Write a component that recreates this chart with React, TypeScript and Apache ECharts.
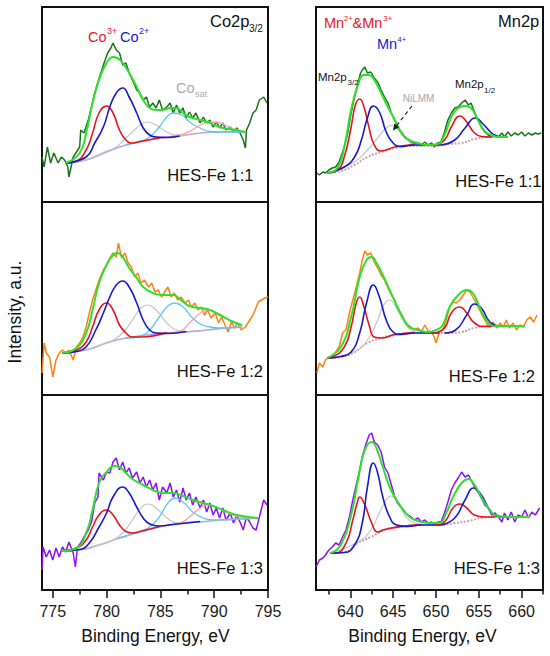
import React, { useEffect, useRef } from 'react';
import * as echarts from 'echarts';

const FONT = '"Liberation Sans", Arial, Helvetica, sans-serif';

// ---------- Co2p3/2, HES-Fe 1:1 ----------
const co11Raw = [[774.0,45],[774.2,35],[774.5,55],[774.8,39],[775.1,49],[775.5,39],[775.8,45],[776.1,42],[776.4,35],[776.5,25],[776.9,45],[777.2,50],[777.5,55],[777.6,72],[777.9,69],[778.3,82],[778.6,95],[778.9,109],[779.2,120],[779.5,130],[779.8,140],[780.1,149],[780.4,154],[780.6,159],[780.9,152],[781.2,149],[781.5,137],[781.8,139],[782.1,129],[782.4,122],[782.8,112],[783.1,109],[783.4,102],[783.7,105],[784.0,95],[784.3,99],[784.6,94],[784.9,102],[785.2,92],[785.6,95],[785.9,99],[786.2,89],[786.5,97],[786.8,89],[787.1,94],[787.4,84],[787.7,90],[788.0,84],[788.3,89],[788.7,79],[789.0,85],[789.3,79],[789.6,82],[789.9,75],[790.2,80],[790.5,74],[790.8,79],[791.1,72],[791.5,75],[791.8,70],[792.1,74],[792.4,69],[792.7,62],[792.9,54],[793.0,72],[793.3,79],[793.6,89],[793.9,92],[794.2,102],[794.6,105],[794.9,99]];
const co11Env = [[776.2,39],[777.5,49],[778.1,69],[778.7,99],[779.3,122],[780.0,139],[780.6,145],[781.0,144],[781.5,139],[782.1,129],[782.8,115],[783.4,102],[784.0,94],[784.6,92],[785.2,92],[785.9,94],[786.5,94],[787.1,89],[787.7,85],[788.7,82],[789.6,79],[790.5,75],[791.8,72],[792.9,70]];
const co11Bg = [[776.2,39],[778.1,42],[780.0,50],[781.8,57],[783.1,60],[784.9,64],[786.8,66],[788.7,69],[790.5,70],[792.9,70]];
const co11Co3 = [[776.2,39],[777.2,41],[778.1,52],[778.7,69],[779.3,89],[780.0,96],[780.6,89],[781.2,72],[781.8,62],[782.4,59],[783.1,60.5],[784.9,64]];
const co11Co2 = [[776.2,39],[778.1,45],[778.9,59],[779.7,75],[780.3,95],[780.9,109],[781.5,114],[782.1,105],[782.8,89],[783.4,74],[784.0,67],[784.6,65],[785.6,64.5],[786.8,66]];
const co11Sat1 = [[776.2,39],[778.1,42.5],[780.0,51],[780.9,55],[781.8,64],[782.8,74],[783.4,79],[783.8,80],[784.6,77],[785.6,70],[786.5,67],[787.4,67]];
const co11Sat2 = [[781.8,57],[783.1,60.5],[784.0,65],[784.9,75],[785.6,85],[786.2,89],[787.0,87],[787.7,80],[788.7,74],[789.6,70.5],[790.5,70],[792.9,70]];
const co11Sat3 = [[784.9,64],[786.8,67],[787.7,70.5],[788.7,77],[789.6,80],[790.5,79],[791.5,74.5],[792.4,71.5],[792.9,70.3]];

// ---------- Co2p3/2, HES-Fe 1:2 ----------
const co12Raw = [[774.0,22],[774.2,52],[774.4,42],[774.7,38],[775.0,18],[775.3,35],[775.6,42],[775.9,45],[776.2,42],[776.5,45],[776.9,35],[777.2,48],[777.5,52],[777.8,58],[778.1,68],[778.4,82],[778.7,95],[779.0,105],[779.3,115],[779.7,125],[780.0,130],[780.3,137],[780.6,142],[780.9,138],[781.1,152],[781.4,137],[781.7,142],[782.0,132],[782.3,128],[782.6,118],[782.9,122],[783.2,112],[783.5,115],[783.9,108],[784.2,112],[784.5,103],[784.8,105],[785.1,98],[785.4,103],[785.7,108],[786.0,98],[786.3,102],[786.6,95],[786.9,98],[787.3,92],[787.6,95],[787.9,88],[788.2,92],[788.5,85],[788.8,88],[789.1,80],[789.4,85],[789.7,77],[790.1,82],[790.4,72],[790.7,78],[791.0,70],[791.3,63],[791.6,73],[791.9,67],[792.2,72],[792.5,65],[792.9,68],[793.2,73],[793.5,78],[793.8,85],[794.1,93],[794.4,95],[794.7,97],[795.0,98]];
const co12Env = [[775.9,42],[777.2,47],[778.1,62],[778.7,85],[779.3,112],[780.0,130],[780.6,140],[781.0,142],[781.5,138],[782.1,127],[782.8,117],[783.4,108],[784.3,102],[785.2,100],[786.2,100],[786.9,95],[787.7,89],[788.7,87],[789.6,85],[790.5,80],[791.8,73],[792.6,70]];
const co12Bg = [[775.9,42],[778.1,45],[780.0,52],[781.8,57],[783.7,60],[785.6,62],[787.4,63],[789.3,65],[791.1,67],[792.6,68]];
const co12Co3 = [[775.9,42],[777.2,45],[778.1,53],[778.7,68],[779.3,85],[780.0,92],[780.6,85],[781.2,70],[781.8,62],[782.4,58],[783.1,58],[785.6,62.5]];
const co12Co2 = [[775.9,42],[777.2,43.5],[778.1,48],[779.0,65],[779.7,82],[780.3,98],[780.9,110],[781.5,114],[782.1,108],[782.8,92],[783.4,75],[784.0,65],[784.6,62],[785.6,61.5],[787.4,63.5]];
const co12Sat1 = [[775.9,42],[778.1,45.5],[780.0,52.5],[780.6,55],[781.5,62],[782.4,75],[783.2,87],[783.8,90],[784.6,85],[785.6,72],[786.5,65],[787.4,63.5]];
const co12Sat2 = [[781.8,57],[783.1,58.5],[784.0,65],[784.9,78],[785.7,89],[786.3,92],[787.1,88],[787.9,78],[788.7,71],[789.6,68],[790.5,67],[792.6,68]];
const co12Sat3 = [[785.6,62],[786.8,63.5],[787.7,72],[788.7,82],[789.3,85],[790.2,83],[791.1,77],[792.1,71],[792.6,68.5]];

// ---------- Co2p3/2, HES-Fe 1:3 ----------
const co13Raw = [[774.0,20],[774.1,43],[774.4,33],[774.7,40],[775.0,30],[775.3,42],[775.6,33],[775.9,43],[776.2,38],[776.5,48],[776.9,37],[777.1,23],[777.3,43],[777.6,47],[777.9,53],[778.3,60],[778.6,68],[778.9,87],[779.2,93],[779.3,117],[779.7,110],[780.0,118],[780.3,117],[780.6,128],[780.9,132],[781.2,120],[781.5,128],[781.8,117],[782.1,122],[782.4,112],[782.8,118],[783.1,107],[783.4,113],[783.7,103],[784.0,110],[784.3,100],[784.6,107],[784.9,90],[785.2,103],[785.6,97],[785.9,107],[786.2,93],[786.5,100],[786.8,88],[787.1,102],[787.4,90],[787.7,97],[788.0,85],[788.3,93],[788.7,82],[789.0,90],[789.3,78],[789.6,87],[789.9,75],[790.2,82],[790.5,72],[790.8,82],[791.1,70],[791.5,77],[791.8,67],[792.1,75],[792.4,68],[792.7,60],[793.0,73],[793.3,68],[793.6,62],[793.9,60],[794.2,73],[794.6,90],[794.9,85]];
const co13Env = [[775.8,39],[777.2,42],[778.1,57],[778.7,80],[779.3,107],[780.0,118],[780.7,124],[781.2,123],[781.8,117],[782.4,111],[783.4,105],[784.3,100],[785.2,97],[786.2,97],[787.1,94],[788.0,90],[789.0,87],[789.9,84],[790.8,80],[792.1,75],[794.1,72]];
const co13Bg = [[775.8,39],[777.5,40],[779.3,45],[781.2,52],[783.1,58],[784.9,63],[786.8,67],[788.7,68],[790.5,70],[792.4,71],[794.1,72]];
const co13Co3 = [[775.8,39],[777.2,42],[778.1,50],[778.7,63],[779.3,75],[780.0,80],[780.6,75],[781.2,65],[781.8,58.5],[782.4,57],[783.1,58.5],[784.9,63.5]];
const co13Co2 = [[775.8,39],[777.5,40.5],[778.4,47],[779.3,63],[780.0,77],[780.6,93],[781.5,103],[782.1,97],[782.8,83],[783.4,72],[784.0,66],[784.9,64],[786.2,65.5],[788.7,68.5]];
const co13Sat1 = [[775.8,39],[777.5,40.5],[779.3,45.5],[780.6,50],[781.5,57],[782.4,70],[783.2,82],[783.9,86],[784.8,80],[785.6,72],[786.5,67.5],[787.4,67.5]];
const co13Sat2 = [[781.2,52],[783.1,58.5],[784.0,63],[784.9,73],[785.7,87],[786.4,92],[787.2,87],[788.0,78],[789.0,72],[789.9,70],[791.5,70.5],[794.1,72]];
const co13Sat3 = [[784.9,63.5],[786.8,67],[787.7,73],[788.7,82],[789.3,85],[790.2,83],[791.1,78],[792.4,73],[794.1,72]];

// ---------- Mn2p, HES-Fe 1:1 ----------
const mn11Raw = [[636.1,29],[636.4,27],[636.8,30],[637.1,29],[637.5,32],[637.9,34],[638.3,35],[638.7,40],[638.9,45],[639.3,55],[639.7,69],[640.1,89],[640.5,105],[640.9,119],[641.2,129],[641.4,132],[641.7,135],[642.0,129],[642.4,130],[642.8,124],[643.2,120],[643.6,112],[644.0,105],[644.4,99],[644.8,89],[645.2,82],[645.5,75],[645.9,70],[646.3,65],[646.7,62],[647.1,59],[647.5,59],[647.9,59],[648.3,57],[648.7,60],[649.1,57],[649.5,59],[649.8,55],[650.2,59],[650.6,60],[651.0,70],[651.4,82],[651.8,89],[652.2,94],[652.6,95],[653.0,99],[653.4,102],[653.8,97],[654.1,99],[654.5,90],[654.9,82],[655.3,75],[655.7,70],[656.1,67],[656.5,65],[656.9,67],[657.3,65],[657.7,69],[658.0,65],[658.4,70],[658.8,66],[659.2,69],[659.6,67],[660.0,70],[660.4,66],[660.8,69],[661.2,67],[661.6,69],[661.9,68],[662.3,69]];
const mn11Env = [[637.3,29],[638.5,34],[639.3,55],[640.1,92],[640.9,117],[641.6,127],[642.2,127],[642.8,122],[643.6,109],[644.4,95],[645.2,82],[645.9,70],[646.7,63],[647.9,59],[649.1,57],[650.2,58],[651.0,67],[651.8,85],[652.6,94],[653.4,96],[654.1,94],[654.9,82],[655.7,71],[656.5,67],[657.3,65],[658.4,65]];
const mn11Bg = [[637.3,29],[638.9,31],[640.5,37],[642.0,45],[643.6,50],[645.2,54],[647.5,56],[649.8,56],[651.4,58],[653.0,59],[654.5,63],[656.1,65],[657.7,65],[658.4,65]];
const mn11Red = [[637.3,29],[638.5,32],[639.3,45],[640.1,75],[640.6,97],[641.1,103],[641.6,95],[642.2,74],[642.8,57],[643.6,51],[645.2,55],[647.5,57.5]];
const mn11Blue = [[637.3,29],[639.3,35],[640.5,45],[641.3,62],[642.0,84],[642.7,96],[643.4,90],[644.2,70],[645.0,59],[645.9,55.5],[647.5,57],[649.8,57],[650.6,57]];
const mn11Gray = [[637.3,29],[640.5,40],[642.0,52],[643.2,64],[644.2,74],[645.0,77],[645.9,72],[646.7,62],[647.5,57],[648.5,56]];
const mn11Red2 = [[649.8,56],[651.0,62],[651.8,75],[652.8,86],[653.6,80],[654.4,70],[655.3,65.5],[656.5,65]];
const mn11Blue2 = [[650.6,57],[652.2,62],[653.4,74],[654.6,84],[655.5,78],[656.5,69],[657.3,65.5],[658.4,65]];

// ---------- Mn2p, HES-Fe 1:2 ----------
const mn12Raw = [[636.1,22],[636.4,32],[636.8,28],[637.1,35],[637.5,38],[637.9,37],[638.3,43],[638.7,48],[639.1,62],[639.5,65],[639.9,82],[640.3,95],[640.7,108],[641.1,122],[641.4,135],[641.7,144],[642.0,140],[642.4,142],[642.8,133],[643.2,127],[643.6,120],[644.0,115],[644.4,107],[644.8,100],[645.2,95],[645.5,87],[645.9,82],[646.3,75],[646.7,70],[647.1,68],[647.5,65],[647.9,67],[648.3,63],[648.7,70],[649.1,64],[649.5,63],[649.8,58],[650.0,52],[650.4,63],[650.8,65],[651.2,75],[651.6,88],[652.0,93],[652.4,92],[652.8,95],[653.2,100],[653.6,105],[654.0,103],[654.3,98],[654.7,92],[655.1,85],[655.5,78],[655.9,72],[656.3,68],[656.7,73],[657.1,67],[657.5,72],[657.9,68],[658.2,75],[658.6,67],[659.0,72],[659.4,65],[659.8,70],[660.2,68],[660.6,75],[661.0,78],[661.4,73],[661.8,80]];
const mn12Env = [[637.3,37],[638.9,48],[640.1,78],[641.1,118],[641.9,135],[642.5,138],[643.0,133],[643.8,120],[644.6,105],[645.4,90],[646.1,78],[646.9,68],[647.9,65],[649.1,63],[650.0,65],[650.8,70],[651.6,88],[652.6,100],[653.6,105],[654.3,102],[655.1,88],[655.9,75],[656.9,69],[658.4,69],[660.4,69]];
const mn12Bg = [[637.3,37],[638.9,38],[640.5,43],[642.0,52],[643.6,57],[645.2,60],[647.5,62],[649.8,62],[651.4,62],[653.0,63],[654.5,67],[656.1,69],[660.4,69]];
const mn12Red = [[637.3,37],[637.9,38],[639.3,48],[640.1,68],[640.7,92],[641.1,98],[641.6,88],[642.2,70],[642.8,58],[643.6,57],[645.2,60.5],[647.5,62.5]];
const mn12Blue = [[637.3,37],[638.9,38.5],[640.1,43],[641.1,62],[641.9,92],[642.7,110],[643.4,98],[644.2,75],[645.0,63],[645.9,60.5],[647.5,62],[650.4,62]];
const mn12Gray = [[637.3,37],[640.5,43.5],[642.0,55],[643.2,75],[643.9,90],[644.6,95],[645.5,85],[646.5,70],[647.5,63],[648.7,62]];
const mn12Red2 = [[649.8,62],[651.0,67],[651.8,82],[652.8,88],[653.6,82],[654.5,72],[655.7,68.5],[656.9,69]];
const mn12Blue2 = [[651.0,62],[652.3,65],[653.6,80],[654.5,91],[655.3,87],[656.3,73],[657.3,69]];

// ---------- Mn2p, HES-Fe 1:3 ----------
const mn13Raw = [[636.0,23],[636.4,30],[636.8,32],[637.1,35],[637.5,40],[637.9,43],[638.3,47],[638.7,45],[639.1,53],[639.5,60],[639.9,73],[640.3,90],[640.7,105],[641.1,120],[641.4,133],[641.8,145],[642.2,155],[642.5,157],[642.8,148],[643.2,145],[643.6,138],[644.0,123],[644.4,117],[644.8,105],[645.2,93],[645.5,87],[645.9,83],[646.3,78],[646.7,75],[647.1,73],[647.5,70],[647.9,72],[648.3,68],[648.7,70],[649.1,67],[649.5,68],[649.8,65],[650.2,68],[650.6,68],[651.0,77],[651.4,88],[651.8,100],[652.2,107],[652.6,112],[653.0,118],[653.4,113],[653.8,115],[654.1,110],[654.5,103],[654.9,98],[655.3,92],[655.7,85],[656.1,82],[656.5,75],[656.9,77],[657.3,73],[657.7,68],[658.0,77],[658.4,70],[658.8,78],[659.2,68],[659.6,75],[660.0,73],[660.4,80],[660.8,72],[661.2,78],[661.6,75],[662.1,82]];
const mn13Env = [[637.7,37],[638.9,45],[640.1,75],[640.9,110],[641.7,140],[642.5,148],[643.0,143],[643.8,123],[644.6,103],[645.4,90],[646.2,80],[647.1,72],[648.3,68],[649.5,67],[650.4,67],[651.2,77],[652.0,93],[653.0,107],[653.8,111],[654.5,105],[655.3,93],[656.1,82],[656.9,75],[658.4,73],[661.0,73]];
const mn13Bg = [[637.7,37],[639.3,38],[640.9,47],[642.4,53],[644.0,60],[645.9,63],[648.3,65],[650.6,65],[652.2,67],[653.8,69],[655.3,72],[656.9,73],[661.0,73]];
const mn13Red = [[637.7,37],[638.3,37],[639.5,47],[640.3,70],[640.8,87],[641.1,93],[641.7,85],[642.5,67],[643.2,58],[644.0,60.5],[645.9,63.5],[648.3,65.5]];
const mn13Blue = [[637.7,37],[639.3,37.5],[640.5,45],[641.4,67],[642.0,103],[642.7,127],[643.2,117],[643.8,93],[644.6,73],[645.4,65],[646.7,63.5],[648.3,65],[650.6,65]];
const mn13Gray = [[637.7,37],[640.9,48],[642.4,60],[643.4,77],[644.2,90],[644.7,94],[645.6,87],[646.5,73],[647.5,67],[648.7,65]];
const mn13Red2 = [[650.0,65],[651.0,68],[652.0,82],[652.8,86],[653.6,82],[654.5,75],[655.7,73],[656.9,73]];
const mn13Blue2 = [[650.6,65],[652.2,72],[653.4,90],[654.4,102],[655.3,95],[656.3,80],[657.3,73.5],[658.4,73]];

// ---------- axes ----------
const coRange = [774, 795];
const mnRange = [636, 662.5];
const coTicks = [775, 780, 785, 790, 795];
const coMinor = [777.5, 782.5, 787.5, 792.5];
const mnTicks = [640, 645, 650, 655, 660];
const mnMinor = [637.5, 642.5, 647.5, 652.5, 657.5, 662.5];
const sampleLabels = ['HES-Fe 1:1', 'HES-Fe 1:2', 'HES-Fe 1:3'];

const C = {
  green: '#1a731a', orange: '#ff8010', violet: '#9010f5', env: '#2de02d',
  red: '#e8141a', blue: '#1818cc', gray: '#c6c6c6', cyan: '#5cc8ea', pink: '#ff9fab',
  coBg: '#b8a6dc', mnBg: '#d49cb4',
};

const grids = [
  { left: 42, top: 7, width: 226, height: 195 },
  { left: 42, top: 202, width: 226, height: 193 },
  { left: 42, top: 395, width: 226, height: 195 },
  { left: 316, top: 7, width: 227, height: 195 },
  { left: 316, top: 202, width: 227, height: 193 },
  { left: 316, top: 395, width: 227, height: 195 },
];

const panels = [
  { raw: co11Raw, rawColor: C.green, env: co11Env, bg: co11Bg, mn: false, comps: [[co11Sat1, C.gray, 1.2], [co11Sat2, C.cyan, 1.3], [co11Sat3, C.pink, 1.3], [co11Co3, C.red, 1.6], [co11Co2, C.blue, 1.6]] },
  { raw: co12Raw, rawColor: C.orange, env: co12Env, bg: co12Bg, mn: false, comps: [[co12Sat1, C.gray, 1.2], [co12Sat2, C.cyan, 1.3], [co12Sat3, C.pink, 1.3], [co12Co3, C.red, 1.6], [co12Co2, C.blue, 1.6]] },
  { raw: co13Raw, rawColor: C.violet, env: co13Env, bg: co13Bg, mn: false, comps: [[co13Sat1, C.gray, 1.2], [co13Sat2, C.cyan, 1.3], [co13Sat3, C.pink, 1.3], [co13Co3, C.red, 1.6], [co13Co2, C.blue, 1.6]] },
  { raw: mn11Raw, rawColor: C.green, env: mn11Env, bg: mn11Bg, mn: true, comps: [[mn11Gray, C.gray, 1.2], [mn11Red, C.red, 1.6], [mn11Blue, C.blue, 1.6], [mn11Red2, C.red, 1.6], [mn11Blue2, C.blue, 1.6]] },
  { raw: mn12Raw, rawColor: C.orange, env: mn12Env, bg: mn12Bg, mn: true, comps: [[mn12Gray, C.gray, 1.2], [mn12Red, C.red, 1.6], [mn12Blue, C.blue, 1.6], [mn12Red2, C.red, 1.6], [mn12Blue2, C.blue, 1.6]] },
  { raw: mn13Raw, rawColor: C.violet, env: mn13Env, bg: mn13Bg, mn: true, comps: [[mn13Gray, C.gray, 1.2], [mn13Red, C.red, 1.6], [mn13Blue, C.blue, 1.6], [mn13Red2, C.red, 1.6], [mn13Blue2, C.blue, 1.6]] },
];

function txt(text: string, x: number, baseline: number, size: number, fill: string, align = 'left') {
  return {
    type: 'text', silent: true, z: 100,
    style: {
      text, x, y: baseline - 0.35 * size, fill,
      font: `${size}px ${FONT}`,
      align, textAlign: align, verticalAlign: 'middle', textVerticalAlign: 'middle',
    },
  };
}

function buildOption() {
  const xAxis: any[] = [];
  const yAxis: any[] = [];
  grids.forEach((g, i) => {
    const isMn = i >= 3;
    const bottom = i === 2 || i === 5;
    const range = isMn ? mnRange : coRange;
    xAxis.push({
      type: 'value', gridIndex: i, min: range[0], max: range[1], position: 'bottom',
      axisLine: { show: false, onZero: false },
      splitLine: { show: false },
      axisTick: bottom
        ? { show: true, customValues: isMn ? mnTicks : coTicks, length: 8, inside: false, lineStyle: { color: '#111', width: 1.5 } }
        : { show: false },
      axisLabel: bottom
        ? { show: true, customValues: isMn ? mnTicks : coTicks, margin: 13, fontSize: 16, color: '#1a1a1a', fontFamily: FONT }
        : { show: false },
    });
    yAxis.push({
      type: 'value', gridIndex: i, min: 0, max: g.height, show: false,
      splitLine: { show: false },
    });
  });
  // minor ticks on bottom panels
  [2, 5].forEach((gi) => {
    const isMn = gi === 5;
    const range = isMn ? mnRange : coRange;
    xAxis.push({
      type: 'value', gridIndex: gi, min: range[0], max: range[1], position: 'bottom',
      axisLine: { show: false, onZero: false }, splitLine: { show: false },
      axisTick: { show: true, customValues: isMn ? mnMinor : coMinor, length: 4.5, inside: false, lineStyle: { color: '#111', width: 1.5 } },
      axisLabel: { show: false },
    });
  });

  const series: any[] = [];
  const line = (data: any, gi: number, color: string, width: number, extra: any = {}) => ({
    type: 'line', data, xAxisIndex: gi, yAxisIndex: gi, showSymbol: false, symbol: 'none',
    silent: true, lineStyle: { color, width, ...(extra.lineStyle || {}) }, itemStyle: { color },
    ...(extra.smooth ? { smooth: extra.smooth } : {}),
  });
  panels.forEach((p, gi) => {
    series.push(line(p.raw, gi, p.rawColor, 1.5));
    series.push(line(p.bg, gi, p.mn ? C.mnBg : C.coBg, p.mn ? 2 : 1.6, { smooth: 0.5, lineStyle: p.mn ? { type: [2, 1.5] } : {} }));
    p.comps.forEach((c: any) => series.push(line(c[0], gi, c[1], c[2], { smooth: 0.5 })));
    series.push(line(p.env, gi, C.env, 2, { smooth: 0.5 }));
  });

  const graphic: any[] = [
    // Co labels
    txt('Co2p', 210, 27, 16.5, '#111'),
    txt('3/2', 249, 32, 10, '#111'),
    txt('Co', 88, 42, 14.5, C.red),
    txt('3+', 107, 34, 9, C.red),
    txt('Co', 120, 42, 14.5, C.blue),
    txt('2+', 139, 34, 9, C.blue),
    txt('Co', 176, 93, 14.5, '#aaaaaa'),
    txt('sat', 195, 97, 9, '#aaaaaa'),
    // Mn labels
    txt('Mn', 324, 28, 14.5, C.red),
    txt('2+', 344, 21.5, 7.5, C.red),
    txt('&Mn', 352.5, 28, 14.5, C.red),
    txt('3+', 383.5, 21.5, 7.5, C.red),
    txt('Mn', 377, 49, 14.5, C.blue),
    txt('4+', 397.5, 42.5, 7.5, C.blue),
    txt('Mn2p', 498, 27, 16.5, '#111'),
    txt('Mn2p', 318, 81, 11.5, '#111'),
    txt('3/2', 347.5, 85, 8, '#111'),
    txt('Mn2p', 455, 88.5, 11.5, '#111'),
    txt('1/2', 484, 93, 8, '#111'),
    txt('NiLMM', 402.7, 101.7, 10, '#a8a8a8'),
    {
      type: 'line', silent: true, z: 100,
      shape: { x1: 412, y1: 106, x2: 395.5, y2: 127 },
      style: { stroke: '#222', lineWidth: 1.2, lineDash: [4, 3] },
    },
    {
      type: 'polygon', silent: true, z: 100,
      shape: { points: [[393, 130.5], [399.3, 127.2], [394.3, 123.4]] },
      style: { fill: '#222' },
    },
    // sample labels
    txt(sampleLabels[0], 253.5, 180.5, 16.5, '#111', 'right'),
    txt(sampleLabels[1], 263, 377, 16.5, '#111', 'right'),
    txt(sampleLabels[2], 263, 574, 16.5, '#111', 'right'),
    txt(sampleLabels[0], 541.5, 187, 16.5, '#111', 'right'),
    txt(sampleLabels[1], 535, 382, 16.5, '#111', 'right'),
    txt(sampleLabels[2], 540, 573.5, 16.5, '#111', 'right'),
    // axis titles
    txt('Binding Energy, eV', 155.5, 642, 17.5, '#111', 'center'),
    txt('Binding Energy, eV', 422.5, 642, 17.5, '#111', 'center'),
    {
      type: 'text', silent: true, z: 100, x: 15, y: 312, rotation: Math.PI / 2,
      style: {
        text: 'Intensity, a.u.', x: 0, y: 0, fill: '#111', font: `17.5px ${FONT}`,
        align: 'center', textAlign: 'center', verticalAlign: 'middle', textVerticalAlign: 'middle',
      },
    },
  ];

  return {
    animation: false,
    backgroundColor: '#ffffff',
    textStyle: { fontFamily: FONT },
    grid: grids.map((g) => ({ ...g, show: true, borderColor: '#111', borderWidth: 2, backgroundColor: 'transparent', containLabel: false })),
    xAxis,
    yAxis,
    series,
    graphic,
  };
}

export default function App() {
  const ref = useRef<HTMLDivElement>(null);
  useEffect(() => {
    if (!ref.current) return;
    const chart = echarts.init(ref.current, undefined, { renderer: 'svg' });
    chart.setOption(buildOption() as any);
    return () => chart.dispose();
  }, []);
  return (
    <div
      ref={ref}
      style={{ position: 'absolute', left: 0, top: 0, width: 550, height: 656, background: '#fff' }}
    />
  );
}
